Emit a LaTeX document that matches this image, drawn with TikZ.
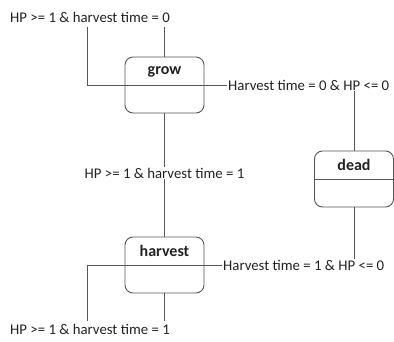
\documentclass[tikz,border=0pt]{standalone}
\usepackage{fontspec}
\setmainfont{Carlito}
\definecolor{linegray}{HTML}{555555}
\definecolor{textgray}{HTML}{222222}
\begin{document}
\begin{tikzpicture}[x=1pt,y=-1pt,
  state/.style={draw=linegray,line width=0.9pt,rounded corners=8pt,minimum width=79pt,minimum height=56pt,inner sep=0pt},
  title/.style={font=\fontsize{16}{18}\selectfont\bfseries,text=textgray,inner sep=0pt},
  cond/.style={font=\fontsize{14.8}{17}\selectfont,text=textgray,inner sep=1pt},
  conn/.style={draw=linegray,line width=0.9pt}]
\useasboundingbox (0,0) rectangle (394,341);
% states
\node[state] (grow) at (164.5,85) {};
\node[state] (dead) at (354,179) {};
\node[state] (harvest) at (164.5,265) {};
\draw[conn] (grow.west) -- (grow.east);
\draw[conn] (dead.west) -- (dead.east);
\draw[conn] (harvest.west) -- (harvest.east);
\node[title] (growt) at (164.5,72) {grow};
\node[title] (deadt) at (354,165) {dead};
\node[title] (harvestt) at (164.5,251) {harvest};
% conditions
\node[cond,anchor=west] (c1) at (9,17) {HP >= 1 \& harvest time = 0};
\node[cond,anchor=west] (c2) at (227,85) {Harvest time = 0 \& HP <= 0};
\node[cond] (c3) at (164.5,173) {HP >= 1 \& harvest time = 1};
\node[cond,anchor=west] (c4) at (222,265) {Harvest time = 1 \& HP <= 0};
\node[cond,anchor=west] (c5) at (9,329) {HP >= 1 \& harvest time = 1};
\coordinate (k1) at (87,27);
\coordinate (k5) at (87,321);
% connectors
\draw[conn] (grow.north) -- (grow.north |- k1);
\draw[conn] (grow.west) -| (k1);
\draw[conn] (grow.east) -- (c2.west);
\draw[conn] (c2.south -| dead.north) -- (dead.north);
\draw[conn] (grow.south) -- (c3.north);
\draw[conn] (c3.south) -- (harvest.north);
\draw[conn] (dead.south) -- (dead.south |- c4.north);
\draw[conn] (harvest.east) -- (c4.west);
\draw[conn] (harvest.west) -| (k5);
\draw[conn] (harvest.south) -- (harvest.south |- k5);
\end{tikzpicture}
\end{document}
